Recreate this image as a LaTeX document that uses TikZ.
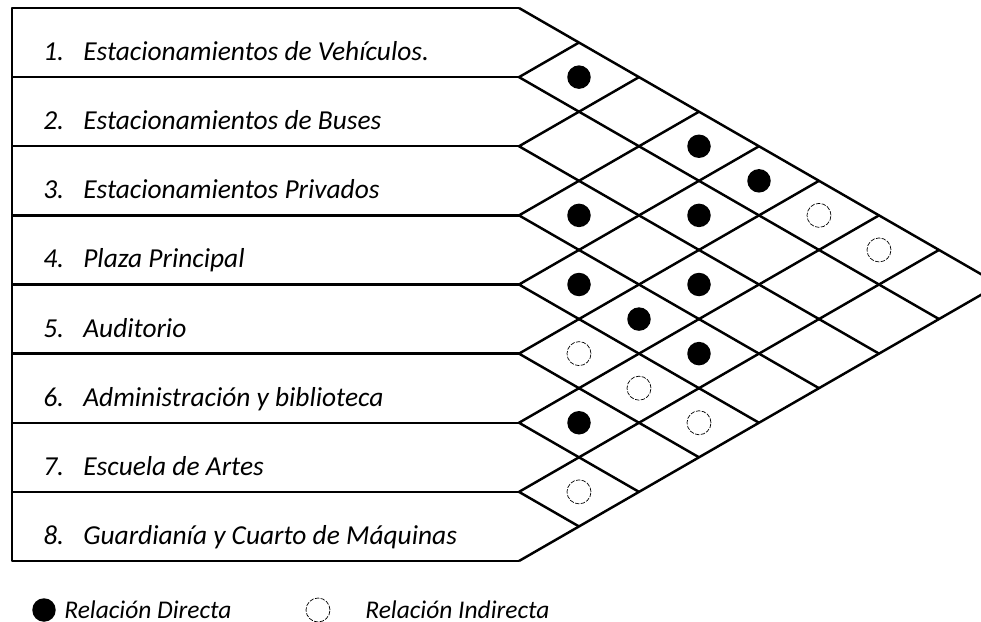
\documentclass[tikz,border=0pt]{standalone}
\usepackage{fontspec}
\setmainfont{Carlito}
\begin{document}
\begin{tikzpicture}[x=0.02cm, y=-0.02cm,
        grid/.style={line width=1.4pt, line join=round},
        direct/.style={circle, fill=black, minimum width=0.44cm, minimum height=0.47cm, inner sep=0pt},
        indirect/.style={circle, draw, dash pattern=on 2.5pt off 0.8pt, line width=0.4pt, minimum width=0.45cm, minimum height=0.48cm, inner sep=0pt},
        rowlabel/.style={anchor=base west, inner sep=0pt, font=\fontsize{15.6}{18}\selectfont\itshape},
        legend/.style={anchor=base west, inner sep=0pt, font=\fontsize{14.5}{17}\selectfont\itshape}
    ]
        \useasboundingbox (0,0) rectangle (981,622);

        % Row boundaries and diagonal grid points
        \foreach \k in {0,...,8} {
            \coordinate (a\k) at (12, {8+69.125*\k});
            \coordinate (p\k) at (519, {8+69.125*\k});
            \coordinate (up\k) at ({519+60*\k}, {8+34.5625*\k});
            \coordinate (dn\k) at ({519+60*(8-\k)}, {8+34.5625*(8+\k)});
        }

        % Frame and horizontal lines
        \draw[grid] (p0) -- (a0) -- (a8) -- (p8);
        \foreach \k in {1,...,7} {
            \draw[grid] (a\k) -- (p\k);
        }

        % Diamond grid
        \foreach \k in {0,...,8} {
            \draw[grid] (up\k) -- (p\k) -- (dn\k);
        }

        % Row labels
        \foreach \i/\name in {1/Estacionamientos de Vehículos.,
                              2/Estacionamientos de Buses,
                              3/Estacionamientos Privados,
                              4/Plaza Principal,
                              5/Auditorio,
                              6/Administración y biblioteca,
                              7/Escuela de Artes,
                              8/Guardianía y Cuarto de Máquinas} {
            \node[rowlabel] (r\i) at (43, {8+69.125*(\i-0.5)+18}) {\makebox[0.8cm][l]{\i.}\name};
        }

        % Direct relations
        \foreach \i/\j in {1/2, 1/4, 1/5, 2/5, 3/4, 3/6, 4/5, 4/6, 4/7, 6/7} {
            \node[direct] (d\i\j) at ({519+60*(\j-\i)}, {8+34.5625*(\i+\j-1)}) {};
        }

        % Indirect relations
        \foreach \i/\j in {1/6, 1/7, 5/6, 5/7, 5/8, 7/8} {
            \node[indirect] (d\i\j) at ({519+60*(\j-\i)}, {8+34.5625*(\i+\j-1)}) {};
        }

        % Legend
        \node[direct] (ldir) at (44, 610) {};
        \node[legend] (tdir) at (64, 618) {Relación Directa};
        \node[indirect] (lind) at (318, 610) {};
        \node[legend] (tind) at (365, 618) {Relación Indirecta};
    \end{tikzpicture}
\end{document}
